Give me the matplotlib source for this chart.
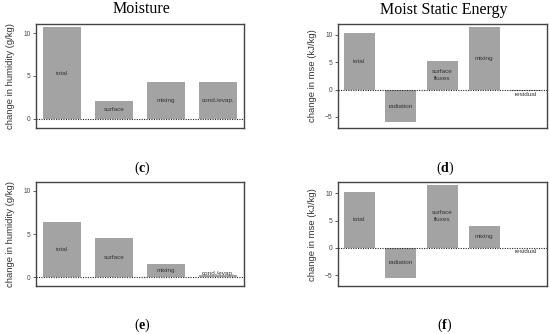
import numpy as np
import matplotlib
matplotlib.use("Agg")
import matplotlib.pyplot as plt

plt.rcParams["font.family"] = ["Liberation Sans", "DejaVu Sans"]
plt.rcParams["mathtext.fontset"] = "custom"
plt.rcParams["mathtext.rm"] = "Liberation Serif"
plt.rcParams["mathtext.bf"] = "Liberation Serif:bold"

# moisture budget (g/kg)
hum_labels = ["total", "surface", "mixing", "cond./evap."]
hum_c = [10.65, 2.1, 4.27, 4.25]
hum_e = [6.42, 4.57, 1.54, 0.23]

# moist static energy budget (kJ/kg)
mse_labels = ["total", "radiation", "surface\nfluxes", "mixing", "residual"]
mse_d = [10.3, -6.0, 5.3, 11.4, -0.25]
mse_f = [10.2, -5.56, 11.57, 4.08, -0.05]

BAR = "#a3a3a3"
FRAME = "#444444"
TXT = "#333333"


def budget_panel(ax, labels, values, ylim, yticks, ylabel, minlab):
  x = np.arange(len(values))
  ax.bar(x, values, width=0.74, color=BAR, zorder=2)
  ax.axhline(0, color="#222222", lw=0.8, ls=(0, (1, 1.2)), zorder=3)
  for i, v in enumerate(values):
    y = np.sign(v if v != 0 else 1) * max(abs(v) / 2, minlab)
    ax.text(i, y, labels[i], ha="center", va="center", fontsize=4.6,
            color=TXT, linespacing=1.5, zorder=4)
  ax.set_xlim(-0.5, len(values) - 0.5)
  ax.set_ylim(*ylim)
  ax.set_yticks(yticks)
  ax.set_xticks([])
  ax.tick_params(axis="y", labelsize=4.8, colors=FRAME, length=2, width=0.6, pad=2)
  for s in ax.spines.values():
    s.set_color(FRAME)
    s.set_linewidth(1.0)
  ax.set_ylabel(ylabel, fontsize=6.8, color=TXT, labelpad=6)


fig = plt.figure(figsize=(5.5, 3.34), dpi=100)

ax_c = fig.add_axes([0.0655, 0.617, 0.378, 0.311])
ax_d = fig.add_axes([0.615, 0.617, 0.379, 0.311])
ax_e = fig.add_axes([0.0655, 0.144, 0.378, 0.310])
ax_f = fig.add_axes([0.615, 0.144, 0.379, 0.310])

budget_panel(ax_c, hum_labels, hum_c, (-1.05, 11.05), [0, 5, 10], "change in humidity (g/kg)", 0.45)
budget_panel(ax_e, hum_labels, hum_e, (-1.0, 11.0), [0, 5, 10], "change in humidity (g/kg)", 0.45)
budget_panel(ax_d, mse_labels, mse_d, (-7.0, 12.0), [-5, 0, 5, 10], "change in mse (kJ/kg)", 0.8)
budget_panel(ax_f, mse_labels, mse_f, (-7.0, 12.0), [-5, 0, 5, 10], "change in mse (kJ/kg)", 0.7)

serif = ["Liberation Serif", "DejaVu Serif"]
fig.text(0.258, 0.972, "Moisture", ha="center", va="center", fontsize=11.5, family=serif)
fig.text(0.807, 0.970, "Moist Static Energy", ha="center", va="center", fontsize=11.5, family=serif)

for xx, yy, letter in [(0.258, 0.497, "c"), (0.809, 0.497, "d"), (0.258, 0.027, "e"), (0.809, 0.027, "f")]:
  fig.text(xx, yy, "(" + r"$\mathbf{" + letter + "}$" + ")", ha="center", va="center",
           fontsize=10, family=serif)

fig.savefig("out.png", dpi=100)
